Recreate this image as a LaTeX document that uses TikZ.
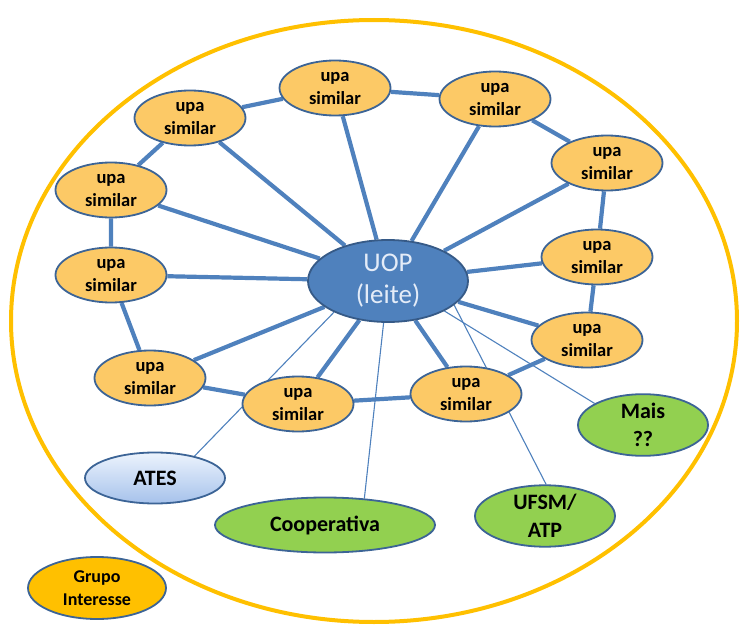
\documentclass[tikz,border=0pt]{standalone}
\usepackage{fontspec}
\setmainfont{Carlito}
\usetikzlibrary{shapes.geometric,backgrounds}
\definecolor{edgeblue}{RGB}{79,129,189}
\definecolor{rimblue}{RGB}{60,100,150}
\definecolor{upafill}{RGB}{252,201,102}
\definecolor{greenfill}{RGB}{146,208,80}
\definecolor{gold}{RGB}{255,192,0}
\definecolor{uoptext}{RGB}{228,236,248}
\definecolor{atestop}{RGB}{236,243,253}
\definecolor{atesbot}{RGB}{166,194,235}
\tikzset{
  blob/.style={ellipse, draw=rimblue, line width=1.8pt, inner sep=0pt, align=center},
  upa/.style={blob, fill=upafill, minimum width=111pt, minimum height=55pt,
    font=\bfseries\fontsize{18.5}{23}\selectfont},
  partner/.style={blob, fill=greenfill, font=\bfseries\fontsize{22}{28}\selectfont},
  spoke/.style={draw=edgeblue, line width=4.2pt},
  thin/.style={draw=edgeblue, line width=1.1pt},
}
\begin{document}
\begin{tikzpicture}[x=1pt,y=-1pt]
\useasboundingbox (0,0) rectangle (740,626);

% central unit
\node[ellipse, fill=edgeblue, draw=rimblue!90!black, line width=1.8pt,
      minimum width=160pt, minimum height=82pt, inner sep=0pt, align=center,
      text=uoptext, font=\fontsize{27}{32}\selectfont] (uop) at (388,281) {UOP\\(leite)};

% ring of similar units
\node[upa] (u1)  at (190,118) {upa\\similar};
\node[upa] (u2)  at (335,88)  {upa\\similar};
\node[upa] (u3)  at (495,99)  {upa\\similar};
\node[upa] (u4)  at (607,163) {upa\\similar};
\node[upa] (u5)  at (111,190) {upa\\similar};
\node[upa] (u6)  at (111,275) {upa\\similar};
\node[upa] (u7)  at (597,257) {upa\\similar};
\node[upa] (u8)  at (587,340) {upa\\similar};
\node[upa] (u9)  at (150,378) {upa\\similar};
\node[upa] (u10) at (298,404) {upa\\similar};
\node[upa] (u11) at (466,394) {upa\\similar};

% partners
\node[partner, minimum width=130pt, minimum height=54pt] (mais) at (643,425) {Mais\\??};
\node[partner, minimum width=140pt, minimum height=53pt] (ufsm) at (545,516) {UFSM/\\ATP};
\node[partner, minimum width=220pt, minimum height=55pt] (coop) at (325,525) {Cooperativa};
\node[blob, top color=atestop, bottom color=atesbot, minimum width=140pt, minimum height=51pt,
      font=\bfseries\fontsize{22}{28}\selectfont] (ates) at (155,478) {ATES};
\node[blob, fill=gold, minimum width=138pt, minimum height=62pt,
      font=\bfseries\fontsize{18}{23}\selectfont] (grupo) at (97,588) {Grupo\\Interesse};

\begin{pgfonlayer}{background}
  % boundary of the group
  \draw[gold, line width=4pt] (374,321) ellipse [x radius=363, y radius=301];
  % ring links
  \draw[spoke] (u1) -- (u2) -- (u3) -- (u4) -- (u7) -- (u8) -- (u11) -- (u10) -- (u9) -- (u6) -- (u5) -- (u1);
  % spokes from the centre
  \foreach \u in {u1,u2,u3,u4,u5,u6,u7,u8,u9,u10,u11}
    \draw[spoke] (uop) -- (\u);
  % weaker ties
  \draw[thin] (uop.-150) -- (ates.29);
  \draw[thin] (uop.-96) -- (coop.34);
  \draw[thin] (uop.-20) -- (ufsm.88);
  \draw[thin] (uop.-28) -- (mais.156);
\end{pgfonlayer}
\end{tikzpicture}
\end{document}
